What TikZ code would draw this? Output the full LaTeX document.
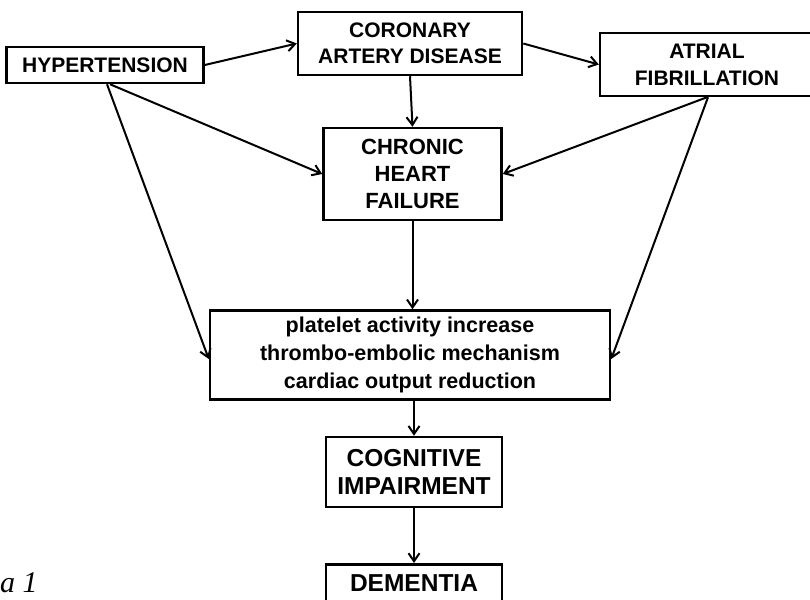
\documentclass[tikz,border=0pt]{standalone}
\usepackage{fontspec}
\setmainfont{Liberation Serif}
\setsansfont{Liberation Sans}
\usetikzlibrary{arrows.meta}

\tikzset{
  box/.style={draw, line width=2.5pt, align=center, inner sep=0pt,
    font=\sffamily\bfseries\fontsize{21}{26}\selectfont},
  arr/.style={line width=2pt, -{Straight Barb[length=8pt,width=11pt]}}
}

\begin{document}
\begin{tikzpicture}[x=1pt,y=-1pt]
            \useasboundingbox (0,0) rectangle (810,599);
            \clip (0,0) rectangle (810,599);
            \node[box, minimum width=197, minimum height=36] (hyp) at (105,65) {HYPERTENSION};
            \node[box, minimum width=224, minimum height=63] (cad) at (410,43.5) {CORONARY\\ARTERY DISEASE};
            \node[box, minimum width=214, minimum height=63, font=\sffamily\bfseries\fontsize{21}{27}\selectfont] (af) at (707,64.5) {ATRIAL\\FIBRILLATION};
            \node[box, minimum width=178, minimum height=92, font=\sffamily\bfseries\fontsize{22}{27}\selectfont] (chf) at (412.5,174) {CHRONIC\\HEART\\FAILURE};
            \node[box, minimum width=400, minimum height=89, font=\sffamily\bfseries\fontsize{21.5}{28}\selectfont] (mech) at (410,355) {platelet activity increase\\thrombo-embolic mechanism\\cardiac output reduction};
            \node[box, minimum width=176, minimum height=70, font=\sffamily\bfseries\fontsize{24.5}{28}\selectfont] (cog) at (414,472) {COGNITIVE\\IMPAIRMENT};
            \node[box, anchor=north, minimum width=176, inner ysep=10pt, font=\sffamily\bfseries\fontsize{24.5}{28}\selectfont] (dem) at (414,563) {DEMENTIA};
            \node[anchor=base west, inner sep=0pt, font=\itshape\fontsize{30}{34}\selectfont] (fig) at (0,592) {a 1};

            \draw[arr] (hyp.east) -- (cad.west);
            \draw[arr] (cad.east) -- (af.west);
            \draw[arr] (cad.south) -- (chf.north);
            \draw[arr] ([xshift=5pt]hyp.south) -- (chf.west);
            \draw[arr] ([xshift=2pt]hyp.south) -- ([yshift=-4pt]mech.west);
            \draw[arr] (af.south) -- (chf.east);
            \draw[arr] ([xshift=1pt]af.south) -- ([yshift=-4pt]mech.east);
            \draw[arr] (chf.south) -- (chf.south |- mech.north);
            \draw[arr] (mech.south -| cog.north) -- (cog.north);
            \draw[arr] (cog.south) -- (dem.north);
        \end{tikzpicture}
\end{document}
